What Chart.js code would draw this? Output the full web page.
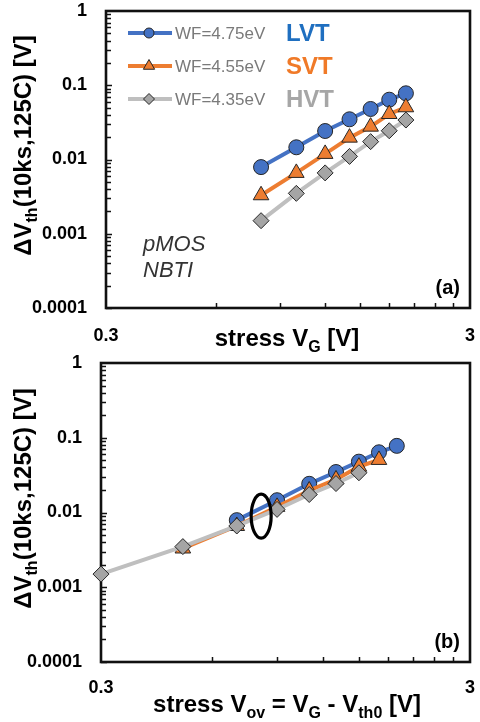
<!DOCTYPE html>
<html lang="en">
<head>
<meta charset="UTF-8" />
<title>NBTI dVth vs stress voltage</title>
<script src="https://cdn.jsdelivr.net/npm/chart.js"></script>
<style>
  body { margin: 0; background: #fff; width: 480px; height: 722px; position: relative; overflow: hidden; }
  .panel { position: absolute; left: 0; width: 480px; }
  #boxA { top: 0; height: 358px; }
  #boxB { top: 350px; height: 372px; }
</style>
</head>
<body>
<div class="panel" id="boxA"><canvas id="chartA"></canvas></div>
<div class="panel" id="boxB"><canvas id="chartB"></canvas></div>
<script>
// stress gate voltage, panel (a)
const vg = [0.8, 1.0, 1.2, 1.4, 1.6, 1.8, 2.0];
// overdrive Vov = VG - Vth0, panel (b)
const vovLVT = [0.7, 0.9, 1.1, 1.3, 1.5, 1.7, 1.9];
const vovSVT = [0.5, 0.7, 0.9, 1.1, 1.3, 1.5, 1.7];
const vovHVT = [0.3, 0.5, 0.7, 0.9, 1.1, 1.3, 1.5];
// dVth after 10ks @125C [V]
const dvthLVT = [0.0079, 0.0146, 0.0242, 0.0348, 0.0479, 0.0639, 0.0779];
const dvthSVT = [0.0033, 0.0066, 0.0119, 0.0197, 0.0277, 0.0410, 0.0505];
const dvthHVT = [0.0015, 0.0035, 0.0066, 0.0110, 0.0174, 0.0244, 0.0340];

const yTickValues = [0.0001, 0.001, 0.01, 0.1, 1];
const xTickValues = [0.3, 3];
const xMinorTicks = [0.6, 0.9, 1.2, 1.5, 1.8, 2.1, 2.4, 2.7];
const legendNames = ['WF=4.75eV', 'WF=4.55eV', 'WF=4.35eV'];
const legendTags = ['LVT', 'SVT', 'HVT'];

const FONT = '"Liberation Sans", Arial, sans-serif';
const BLUE = '#4472C4', ORANGE = '#ED7D31', GRAY = '#A5A5A5', GRAYLINE = '#BFBFBF';
const EDGE = '#262626';

function pts(xs, ys) { return xs.map((x, i) => ({ x: x, y: ys[i] })); }

function series(xs, ys, fill, line, style, r) {
  return {
    data: pts(xs, ys), borderColor: line, borderWidth: 4,
    pointStyle: style, pointRadius: r, pointBackgroundColor: fill,
    pointBorderColor: EDGE, pointBorderWidth: 1, tension: 0, clip: false
  };
}

// rich text with subscripts: parts = [[text, isSub], ...]
function richText(ctx, parts, x, y, size) {
  const sub = Math.round(size * 0.68);
  let w = 0;
  parts.forEach(p => {
    ctx.font = 'bold ' + (p[1] ? sub : size) + 'px ' + FONT;
    w += ctx.measureText(p[0]).width;
  });
  let cx = x - w / 2;
  ctx.textAlign = 'left';
  ctx.textBaseline = 'alphabetic';
  parts.forEach(p => {
    ctx.font = 'bold ' + (p[1] ? sub : size) + 'px ' + FONT;
    ctx.fillText(p[0], cx, p[1] ? y + 6 : y);
    cx += ctx.measureText(p[0]).width;
  });
}

function marker(ctx, style, x, y, r, fill) {
  ctx.beginPath();
  if (style === 'circle') {
    ctx.arc(x, y, r, 0, Math.PI * 2);
  } else if (style === 'triangle') {
    ctx.moveTo(x, y - r);
    ctx.lineTo(x + r * 0.866, y + r * 0.5);
    ctx.lineTo(x - r * 0.866, y + r * 0.5);
    ctx.closePath();
  } else {
    ctx.moveTo(x, y - r); ctx.lineTo(x + r, y); ctx.lineTo(x, y + r); ctx.lineTo(x - r, y);
    ctx.closePath();
  }
  ctx.fillStyle = fill; ctx.fill();
  ctx.lineWidth = 1; ctx.strokeStyle = EDGE; ctx.stroke();
}

const framePlugin = {
  id: 'frame',
  beforeDatasetsDraw(chart) {
    const { ctx, chartArea: a, scales } = chart;
    ctx.save();
    ctx.strokeStyle = '#111';
    ctx.lineWidth = 1.5;
    ctx.beginPath();
    for (let k = -4; k < 0; k++) {
      for (let m = 1; m <= 9; m++) {
        const py = Math.round(scales.y.getPixelForValue(m * Math.pow(10, k))) + 0.5;
        ctx.moveTo(a.left, py); ctx.lineTo(a.left + (m === 1 ? 6 : 5), py);
      }
    }
    xMinorTicks.forEach(v => {
      const px = Math.round(scales.x.getPixelForValue(v)) + 0.5;
      ctx.moveTo(px, a.bottom); ctx.lineTo(px, a.bottom - 5);
    });
    ctx.stroke();
    ctx.lineWidth = 2.6;
    ctx.strokeRect(a.left, a.top, a.right - a.left, a.bottom - a.top);
    ctx.restore();
  }
};

const textPlugin = {
  id: 'texts',
  afterDraw(chart) {
    const { ctx, chartArea: a, scales } = chart;
    const o = chart.options.plugins.texts;
    ctx.save();
    ctx.fillStyle = '#000';
    // y title (rotated)
    ctx.translate(31, (a.top + a.bottom) / 2 - 14);
    ctx.rotate(-Math.PI / 2);
    richText(ctx, [['\u0394V', false], ['th', true], ['(10ks,125C) [V]', false]], 0, 0, 24);
    ctx.setTransform(1, 0, 0, 1, 0, 0);
    // x title
    richText(ctx, o.xTitle, 287, a.bottom + o.xTitleDy, 24);
    // panel tag
    ctx.font = 'bold 20px ' + FONT;
    ctx.textAlign = 'right';
    ctx.textBaseline = 'middle';
    ctx.fillText(o.tag, a.right - 10, a.bottom - 20);

    if (o.legend) {
      const styles = ['circle', 'triangle', 'diamond'];
      const fills = [BLUE, ORANGE, GRAY];
      const lines = [BLUE, ORANGE, GRAYLINE];
      const tagColors = ['#1F6FC0', '#F07A28', '#A6A6A6'];
      const rs = [5, 6.5, 5.5];
      legendNames.forEach((name, i) => {
        const y = 33 + i * 33;
        ctx.strokeStyle = lines[i]; ctx.lineWidth = 4;
        ctx.beginPath(); ctx.moveTo(128, y); ctx.lineTo(172, y); ctx.stroke();
        marker(ctx, styles[i], 149, y, rs[i], fills[i]);
        ctx.fillStyle = '#7A7A7A';
        ctx.font = '17px ' + FONT;
        ctx.textAlign = 'left';
        ctx.textBaseline = 'middle';
        ctx.fillText(name, 175, y + 1);
        ctx.fillStyle = tagColors[i];
        ctx.font = 'bold 24px ' + FONT;
        ctx.fillText(legendTags[i], 286, y + 1);
      });
      ctx.fillStyle = '#333';
      ctx.font = 'italic 22px ' + FONT;
      ctx.textAlign = 'left';
      ctx.textBaseline = 'alphabetic';
      ctx.fillText('pMOS', 143, 251);
      ctx.fillText('NBTI', 143, 277);
    }
    if (o.ellipse) {
      const ex = scales.x.getPixelForValue(o.ellipse[0]);
      const ey = scales.y.getPixelForValue(o.ellipse[1]);
      ctx.strokeStyle = '#000'; ctx.lineWidth = 3.2;
      ctx.beginPath(); ctx.ellipse(ex, ey, 10, 22, 0, 0, Math.PI * 2); ctx.stroke();
    }
    ctx.restore();
  }
};

function makeChart(id, p) {
  return new Chart(document.getElementById(id), {
    type: 'line',
    data: {
      datasets: [
        series(p.xs[2], dvthHVT, GRAY, GRAYLINE, 'rectRot', 8),
        series(p.xs[1], dvthSVT, ORANGE, ORANGE, 'triangle', 9),
        series(p.xs[0], dvthLVT, BLUE, BLUE, 'circle', 7.5)
      ]
    },
    options: {
      responsive: true, maintainAspectRatio: false, animation: false, devicePixelRatio: 1,
      layout: { padding: { top: p.top, right: p.right, left: 0, bottom: 0 } },
      plugins: { legend: { display: false }, tooltip: { enabled: false }, texts: p.texts },
      scales: {
        // label gap comes from tickLength (grid hidden) so it does not pad the chart area
        x: {
          type: 'logarithmic', min: 0.3, max: 3,
          afterBuildTicks: s => { s.ticks = xTickValues.map(v => ({ value: v })); },
          afterFit: s => { s.height = p.xh; },
          ticks: { callback: v => String(v), color: '#000', font: { family: FONT, size: 18, weight: 'bold' },
                   padding: 0, maxRotation: 0, autoSkip: false },
          grid: { display: false, drawTicks: true, tickLength: p.xpad }, border: { display: false }
        },
        y: {
          type: 'logarithmic', min: 0.0001, max: 1,
          afterBuildTicks: s => { s.ticks = yTickValues.map(v => ({ value: v })); },
          afterFit: s => { s.width = p.yw; },
          ticks: { callback: v => String(v), color: '#000', font: { family: FONT, size: 18, weight: 'bold' },
                   padding: 0, autoSkip: false },
          grid: { display: false, drawTicks: true, tickLength: 19 }, border: { display: false }
        }
      }
    },
    plugins: [framePlugin, textPlugin]
  });
}

makeChart('chartA', {
  xs: [vg, vg, vg], top: 11, right: 7, yw: 106, xh: 50, xpad: 17,
  texts: { tag: '(a)', legend: true, xTitleDy: 38,
           xTitle: [['stress V', false], ['G', true], [' [V]', false]] }
});

makeChart('chartB', {
  xs: [vovLVT, vovSVT, vovHVT], top: 13, right: 5, yw: 101, xh: 60, xpad: 15,
  texts: { tag: '(b)', ellipse: [0.815, 0.00895], xTitleDy: 50,
           xTitle: [['stress V', false], ['ov', true], [' = V', false], ['G', true],
                    [' - V', false], ['th0', true], [' [V]', false]] }
});
</script>
</body>
</html>
